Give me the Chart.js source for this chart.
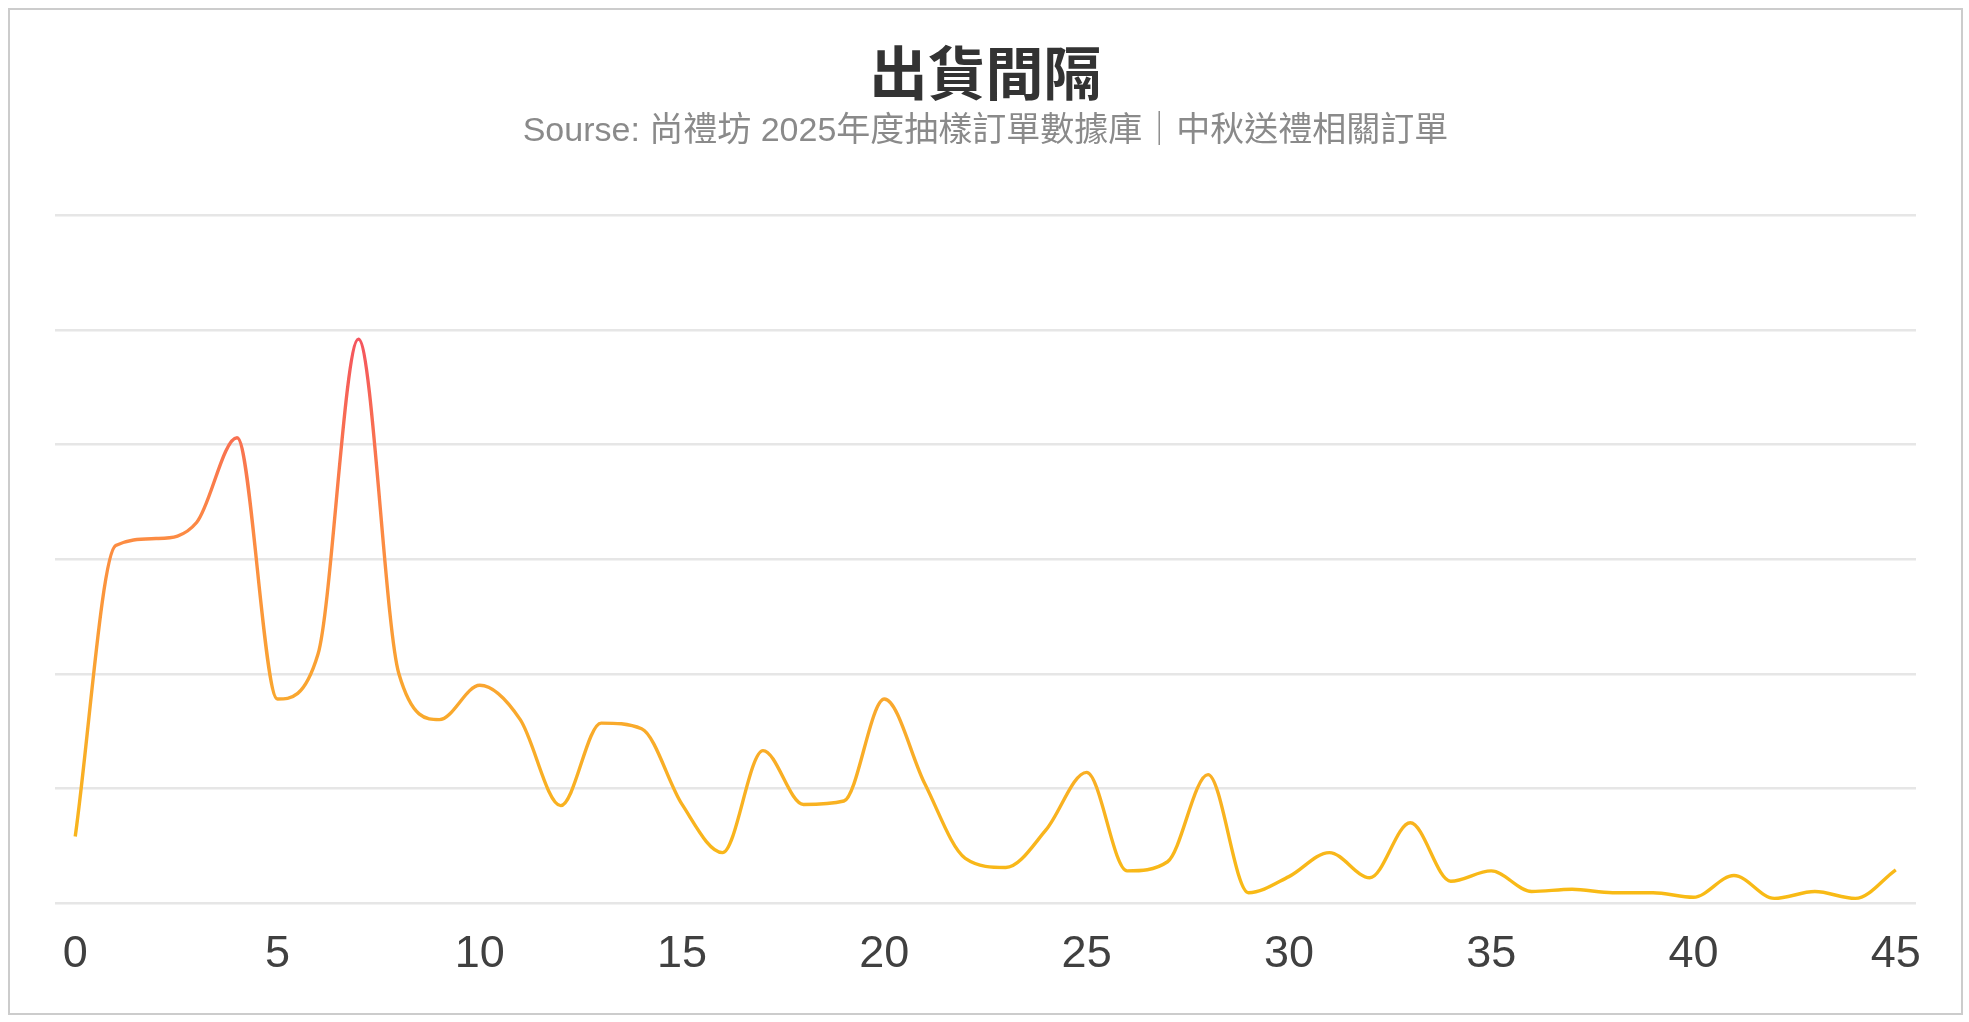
<!DOCTYPE html>
<html>
<head>
<meta charset="utf-8">
<title>出貨間隔</title>
<script src="https://cdn.jsdelivr.net/npm/chart.js@4.4.1/dist/chart.umd.min.js"></script>
<style>
  html, body { margin: 0; padding: 0; background: #fff; }
  #box {
    position: absolute;
    left: 8px; top: 8px;
    width: 1951px; height: 1003px;
    border: 2px solid #cccccc;
    background: #fff;
  }
  #box canvas { display: block; }
</style>
</head>
<body>
<div id="box"><canvas id="gapChart" width="1951" height="1003"></canvas></div>
<script>
// x labels (days between order and shipment)
let days = [];
for (let i = 0; i <= 45; i++) days.push(String(i));

// values (grid step = 10)
let gapValues = [
  5.8, 31.2, 31.8, 33.2, 40.6, 17.8, 21.7, 49.2, 20.0, 16.0,
  19.0, 16.0, 8.5, 15.7, 15.2, 8.6, 4.4, 13.3, 8.6, 8.9,
  17.8, 10.4, 3.9, 3.1, 6.4, 11.4, 2.8, 3.6, 11.2, 0.9,
  2.3, 4.4, 2.2, 7.0, 1.9, 2.8, 1.0, 1.2, 0.9, 0.9,
  0.5, 2.4, 0.4, 1.0, 0.4, 2.9
];

let titleText = '出貨間隔';
let subText = 'Sourse: 尚禮坊 2025年度抽樣訂單數據庫｜中秋送禮相關訂單';

let lineGradient = (context) => {
  const chart = context.chart;
  const area = chart.chartArea;
  if (!area) return '#f8b41c';
  const y = chart.scales.y;
  let g = chart.ctx.createLinearGradient(0, y.getPixelForValue(0), 0, y.getPixelForValue(50));
  g.addColorStop(0, '#f8bb14');
  g.addColorStop(0.35, '#f9a82e');
  g.addColorStop(0.65, '#fc8a44');
  g.addColorStop(1, '#f4525f');
  return g;
};

const ctx = document.getElementById('gapChart').getContext('2d');

new Chart(ctx, {
  type: 'line',
  data: {
    labels: days,
    datasets: [{
      label: titleText,
      data: gapValues,
      borderColor: lineGradient,
      borderWidth: 3.4,
      fill: false,
      pointRadius: 0,
      cubicInterpolationMode: 'monotone'
    }]
  },
  options: {
    responsive: false,
    animation: false,
    layout: { padding: { left: 45, right: 45, top: 22, bottom: 14 } },
    plugins: {
      legend: { display: false },
      tooltip: { enabled: false },
      title: {
        display: true,
        text: titleText,
        color: '#333333',
        font: { family: "'Noto Sans CJK TC', sans-serif", size: 58, weight: 'bold', lineHeight: 1.2 },
        padding: { top: 6, bottom: 4 }
      },
      subtitle: {
        display: true,
        text: subText,
        color: '#8a8a8a',
        font: { family: "'Liberation Sans', 'Noto Sans CJK TC', sans-serif", size: 34, lineHeight: 1.2 },
        padding: { top: 0, bottom: 63 }
      }
    },
    scales: {
      x: {
        offset: true,
        grid: { display: false },
        border: { display: false },
        ticks: {
          autoSkip: false,
          maxRotation: 0,
          color: '#404040',
          padding: 17,
          font: { family: "'Liberation Sans', sans-serif", size: 45 },
          callback: function (val, index) {
            return index % 5 === 0 ? this.getLabelForValue(val) : '';
          }
        }
      },
      y: {
        min: 0,
        max: 60,
        ticks: { display: false, stepSize: 10 },
        border: { display: false },
        grid: { color: '#e6e6e6', lineWidth: 2.5, drawTicks: false }
      }
    }
  }
});
</script>
</body>
</html>
